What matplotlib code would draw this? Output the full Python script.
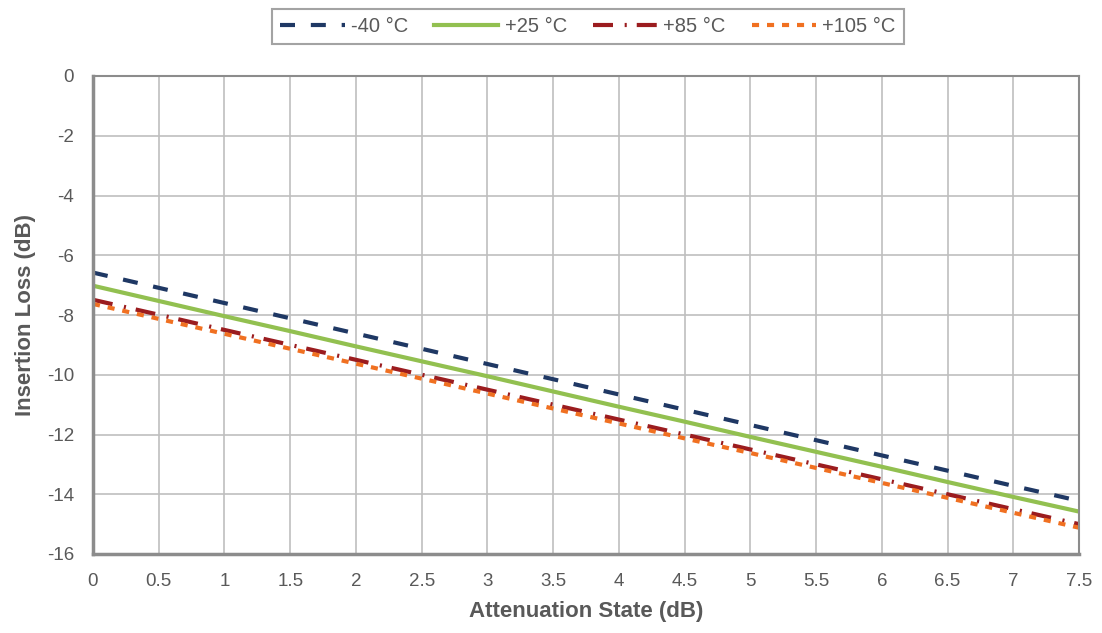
import matplotlib
matplotlib.use("Agg")
import matplotlib.pyplot as plt
import numpy as np

plt.rcParams['font.family'] = ['Liberation Sans', 'DejaVu Sans']

atten_state = [0, 0.5, 1, 1.5, 2, 2.5, 3, 3.5, 4, 4.5, 5, 5.5, 6, 6.5, 7, 7.5]
il_m40 = [-6.58, -7.09, -7.60, -8.11, -8.62, -9.13, -9.64, -10.15, -10.66, -11.17,
          -11.68, -12.19, -12.70, -13.21, -13.72, -14.22]
il_p25 = [-7.02, -7.53, -8.04, -8.54, -9.05, -9.55, -10.05, -10.56, -11.07, -11.57,
          -12.08, -12.58, -13.08, -13.59, -14.09, -14.58]
il_p85 = [-7.49, -7.99, -8.50, -9.00, -9.50, -10.00, -10.50, -11.00, -11.50, -12.00,
          -12.50, -13.00, -13.50, -14.00, -14.50, -15.00]
il_p105 = [-7.63, -8.13, -8.63, -9.13, -9.63, -10.13, -10.63, -11.13, -11.63, -12.13,
           -12.62, -13.12, -13.62, -14.12, -14.62, -15.12]
labels = ['-40 °C', '+25 °C', '+85 °C', '+105 °C']
x_ticks = [0, 0.5, 1, 1.5, 2, 2.5, 3, 3.5, 4, 4.5, 5, 5.5, 6, 6.5, 7, 7.5]
x_ticklabels = ['0', '0.5', '1', '1.5', '2', '2.5', '3', '3.5', '4', '4.5', '5', '5.5', '6', '6.5', '7', '7.5']
y_ticks = [0, -2, -4, -6, -8, -10, -12, -14, -16]

fig = plt.figure(figsize=(11.02, 6.33), dpi=100)
ax = fig.add_axes([93/1102, 1-554/633, (1079-93)/1102, (554-76)/633])

lw = 3.0
l1, = ax.plot(atten_state, il_m40, color='#1F3864', lw=lw, dashes=(3.6, 3.8), label=labels[0])
l2, = ax.plot(atten_state, il_p25, color='#92C050', lw=lw, label=labels[1])
l3, = ax.plot(atten_state, il_p85, color='#9B1C1F', lw=lw, dashes=(4.8, 2.8, 0.5, 2.4), label=labels[2])
l4, = ax.plot(atten_state, il_p105, color='#F07021', lw=lw, dashes=(1.7, 1.9), label=labels[3])

ax.set_xlim(0, 7.5)
ax.set_ylim(-16, 0)
ax.set_xticks(x_ticks)
ax.set_xticklabels(x_ticklabels)
ax.set_yticks(y_ticks)
ax.set_yticklabels([str(v) for v in y_ticks])
ax.grid(True, color='#BFBFBF', lw=1.2)
ax.set_axisbelow(True)
ax.tick_params(length=0, labelsize=13.5, colors='#595959', pad=13.5)
for side in ['top', 'right']:
    ax.spines[side].set_color('#8C8C8C')
    ax.spines[side].set_linewidth(1.5)
for side in ['left', 'bottom']:
    ax.spines[side].set_color('#8C8C8C')
    ax.spines[side].set_linewidth(2.5)

ax.set_xlabel('Attenuation State (dB)', fontsize=16, fontweight='bold', color='#595959', labelpad=8)
ax.set_ylabel('Insertion Loss (dB)', fontsize=16, fontweight='bold', color='#595959', labelpad=8)

leg = fig.legend(handles=[l1, l2, l3, l4], loc='center', bbox_to_anchor=(588/1102, 1-26.5/633),
                 ncol=4, frameon=True, fancybox=False, fontsize=14.5, handlelength=3.2,
                 columnspacing=1.3, handletextpad=0.3, borderpad=0.4)
leg.get_frame().set_edgecolor('#8C8C8C')
leg.get_frame().set_linewidth(1.5)
for t in leg.get_texts():
    t.set_color('#595959')

fig.savefig('out.png', dpi=100)
